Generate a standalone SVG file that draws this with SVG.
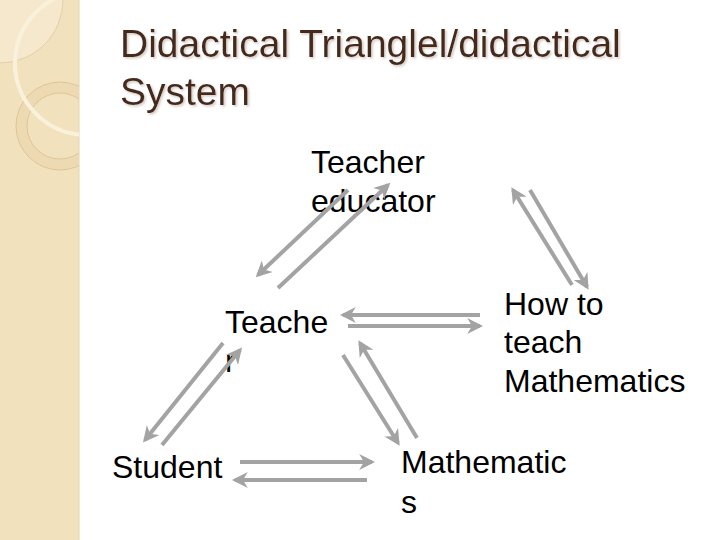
<svg xmlns="http://www.w3.org/2000/svg" width="720" height="540" viewBox="0 0 720 540">
<style>
.t{font-family:"Liberation Sans",Arial,sans-serif;fill:#000;font-size:32px}
.title{font-family:"Liberation Sans",Arial,sans-serif;fill:#45291b;font-size:39px;filter:url(#sh)}
.c{stroke:#a3a3a3;stroke-width:4;fill:none;marker-end:url(#ah)}
</style>
<defs>
<marker id="ah" viewBox="0 0 10 10" refX="8" refY="5" markerWidth="4" markerHeight="4" orient="auto" markerUnits="strokeWidth">
<path d="M0,0 L10,5 L0,10 L3,5 Z" fill="#a3a3a3"/>
</marker>
<filter id="sh" x="-5%" y="-20%" width="110%" height="140%">
<feDropShadow dx="1.5" dy="1.5" stdDeviation="0.8" flood-color="#c8b8b0" flood-opacity="0.8"/>
</filter>
<clipPath id="band"><rect x="0" y="0" width="79" height="540"/></clipPath>
</defs>
<rect width="720" height="540" fill="#fff"/>
<g id="background">
<rect x="0" y="0" width="79" height="540" fill="#f2e1bd"/>
<line x1="79" y1="0" x2="79" y2="540" stroke="#e6d3ab" stroke-width="1"/>
<g clip-path="url(#band)">
<circle cx="0" cy="0" r="63" fill="#f5e8cc" stroke="#e2cfa6" stroke-width="1"/>
<circle cx="60" cy="126" r="38.5" fill="none" stroke="#eedab2" stroke-width="11"/>
<circle cx="60" cy="126" r="44" fill="none" stroke="#dcc59a" stroke-width="1"/>
<circle cx="60" cy="126" r="33" fill="none" stroke="#dcc59a" stroke-width="1"/>
<circle cx="87" cy="63" r="72" fill="none" stroke="#faf1dc" stroke-width="4"/>
</g>
</g>
<g id="title">
<text class="title" x="120" y="57">Didactical Trianglel/didactical</text>
<text class="title" x="120" y="105">System</text>
</g>
<g id="teacher-educator">
<text class="t" x="311" y="173">Teacher</text>
<text class="t" x="311" y="212">educator</text>
</g>
<g id="teacher">
<text class="t" x="225" y="333">Teache</text>
<text class="t" x="225" y="372">r</text>
</g>
<g id="how-to-teach">
<text class="t" x="504" y="315">How to</text>
<text class="t" x="504" y="353">teach</text>
<text class="t" x="504" y="392">Mathematics</text>
</g>
<g id="student">
<text class="t" x="112" y="478">Student</text>
</g>
<g id="mathematics">
<text class="t" x="401" y="473">Mathematic</text>
<text class="t" x="401" y="513">s</text>
</g>
<g id="connectors">
<line class="c" x1="348" y1="190" x2="258" y2="275"/>
<line class="c" x1="278" y1="288" x2="388" y2="185"/>
<line class="c" x1="572" y1="285" x2="513" y2="190"/>
<line class="c" x1="530" y1="190" x2="587" y2="287"/>
<line class="c" x1="223" y1="343" x2="145" y2="440"/>
<line class="c" x1="162" y1="445" x2="240" y2="350"/>
<line class="c" x1="480" y1="315" x2="343" y2="315"/>
<line class="c" x1="348" y1="326" x2="480" y2="326"/>
<line class="c" x1="343" y1="355" x2="398" y2="443"/>
<line class="c" x1="417" y1="438" x2="360" y2="343"/>
<line class="c" x1="240" y1="462" x2="372" y2="462"/>
<line class="c" x1="367" y1="480" x2="235" y2="480"/>
</g>
</svg>
